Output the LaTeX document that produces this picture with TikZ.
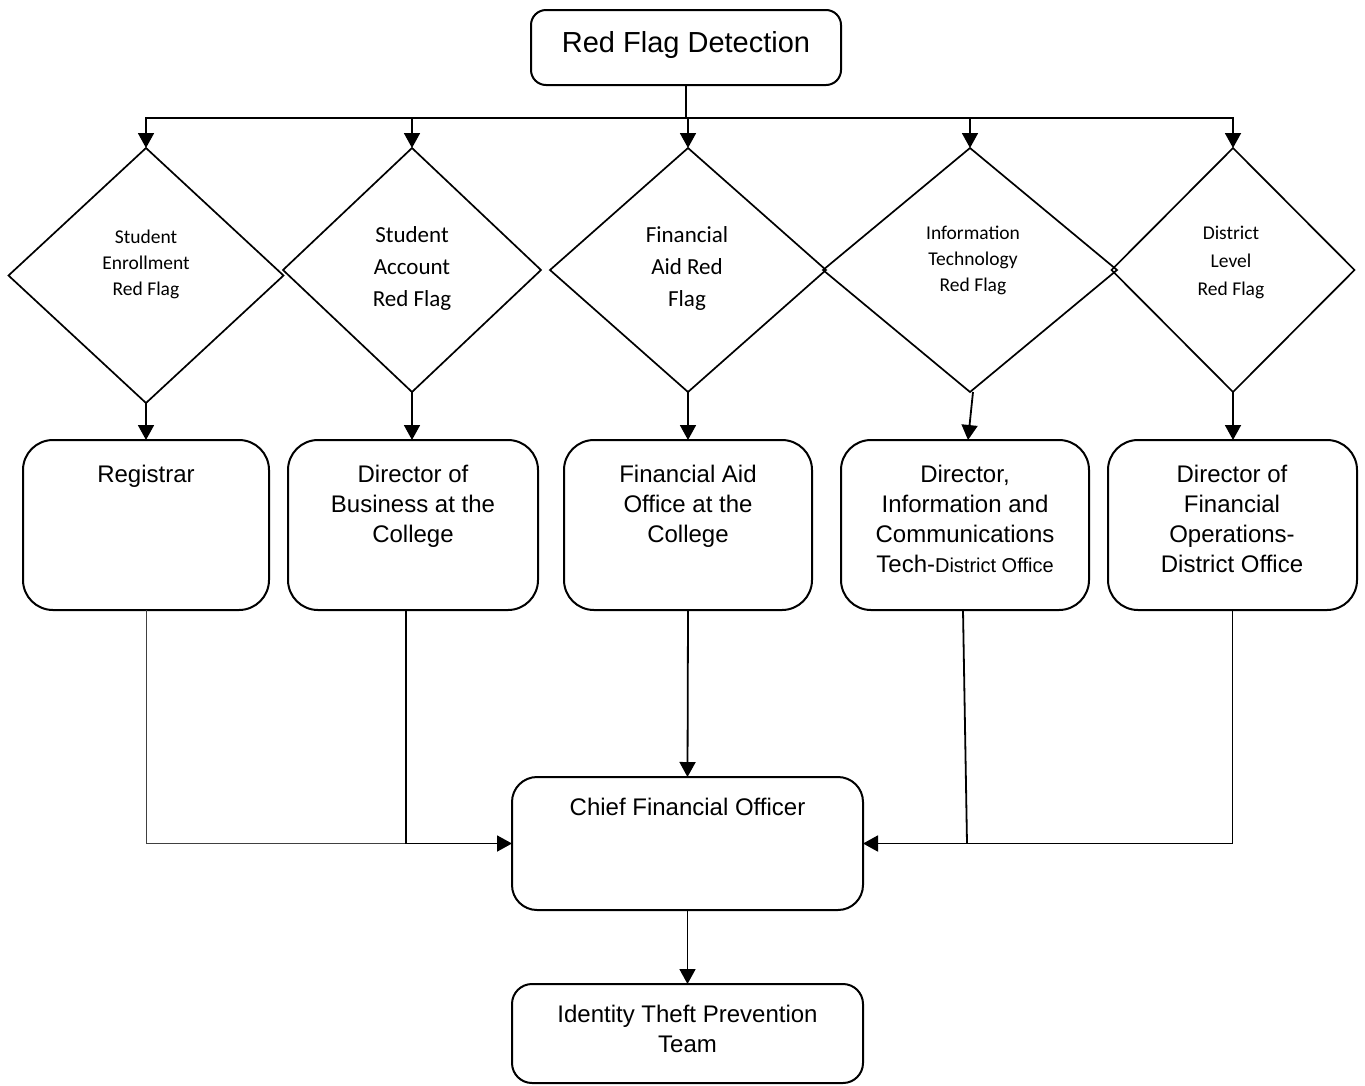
\documentclass[tikz,border=0pt]{standalone}
\usepackage{fontspec}
\setmainfont{Liberation Sans}
\newfontfamily\calib{Carlito}
\usetikzlibrary{shapes.geometric,arrows.meta}
\begin{document}
\begin{tikzpicture}[x=1pt,y=-1pt,
  box/.style={draw, line width=2pt, rounded corners=30pt, inner sep=0pt, outer sep=0pt},
  dia/.style={draw, diamond, line width=1.7pt, inner sep=0pt, outer sep=0pt},
  ln/.style={line width=1.8pt},
  thinln/.style={line width=1pt, black!75},
  arr/.style={line width=1.8pt, -{Triangle[length=15pt,width=16pt]}},
  boxtxt/.style={font=\fontsize{24}{30}\selectfont, align=center, anchor=north, inner sep=0pt},
  diasmall/.style={font=\calib\fontsize{19.5}{26}\selectfont, align=center, inner sep=0pt},
  diabig/.style={font=\calib\fontsize{23}{32}\selectfont, align=center, inner sep=0pt}
]
\useasboundingbox (0,0) rectangle (1365,1085);

% title
\node[box, rounded corners=15pt, minimum width=310pt, minimum height=75pt] (t) at (686,47.5) {};
\node[font=\fontsize{29}{34}\selectfont, inner sep=0pt] (tt) at (686,45) {Red Flag Detection};

% diamonds
\node[dia, minimum width=275pt, minimum height=255pt] (d1) at (146,275.5) {};
\node[dia, minimum width=258pt, minimum height=244pt] (d2) at (412,270) {};
\node[dia, minimum width=276pt, minimum height=244pt] (d3) at (688,270) {};
\node[dia, minimum width=294pt, minimum height=244pt] (d4) at (970,270) {};
\node[dia, minimum width=243pt, minimum height=244pt] (d5) at (1233,270) {};

\node[diasmall] (l1) at (146,264) {Student\\Enrollment\\Red Flag};
\node[diabig] (l2) at (412,268) {Student\\Account\\Red Flag};
\node[diabig] (l3) at (687,268) {Financial\\Aid Red\\Flag};
\node[diasmall] (l4) at (973,260) {Information\\Technology\\Red Flag};
\node[diasmall, font=\calib\fontsize{19.5}{28}\selectfont] (l5) at (1231,262) {District\\Level\\Red Flag};

% bus
\coordinate (busc) at (686,118);
\coordinate (bl) at (146,118);
\coordinate (br) at (1233,118);
\draw[ln] (t.south) -- (busc);
\draw[ln, line cap=rect] (bl) -- (br);
\foreach \d in {d1,d2,d3,d4,d5}{
  \draw[arr] (\d.north |- bl) -- (\d.north);
}

% boxes
\node[box, minimum width=246pt, minimum height=170pt] (b1) at (146,525) {};
\node[box, minimum width=250pt, minimum height=170pt] (b2) at (413,525) {};
\node[box, minimum width=248pt, minimum height=170pt] (b3) at (688,525) {};
\node[box, minimum width=248pt, minimum height=170pt] (b4) at (965,525) {};
\node[box, minimum width=249pt, minimum height=170pt] (b5) at (1232.5,525) {};

\node[boxtxt] (x1) at (146,465) {Registrar};
\node[boxtxt] (x2) at (413,465) {Director of\\Business at the\\College};
\node[boxtxt] (x3) at (688,465) {Financial Aid\\Office at the\\College};
\node[boxtxt] (x4) at (965,465) {Director,\\Information and\\Communications\\Tech-{\fontsize{20}{30}\selectfont District Office}};
\node[boxtxt] (x5) at (1232,465) {Director of\\Financial\\Operations-\\District Office};

% diamonds to boxes
\draw[arr] (d1.south) -- (d1.south |- b1.north);
\draw[arr] (d2.south) -- (d2.south |- b2.north);
\draw[arr] (d3.south) -- (d3.south |- b3.north);
\draw[arr] ([xshift=3pt]d4.south) -- ([xshift=-2pt]d4.south |- b4.north);
\draw[arr] (d5.south) -- (d5.south |- b5.north);

% lower boxes
\node[box, rounded corners=25pt, minimum width=351pt, minimum height=133pt] (cfo) at (687.5,843.5) {};
\node[boxtxt] (cfot) at (687.5,798) {Chief Financial Officer};
\node[box, rounded corners=20pt, minimum width=351pt, minimum height=99pt] (itp) at (687.5,1033.5) {};
\node[boxtxt] (itpt) at (687.5,1005) {Identity Theft Prevention\\Team};

% connectors to CFO
\coordinate (j2) at (406,843.5);
\coordinate (j4) at (967,843.5);
\draw[thinln] (b1.south) -- (b1.south |- j2) -- (j2);
\draw[arr] (b2.south -| j2) -- (j2) -- (cfo.west);
\draw[arr] (b3.south) -- (cfo.north);
\draw[ln] ([xshift=-2pt]b4.south) -- (j4);
\draw[arr] (b5.south) -- (b5.south |- cfo.east) -- (cfo.east);
\draw[arr] (cfo.south) -- (itp.north);
\end{tikzpicture}
\end{document}
